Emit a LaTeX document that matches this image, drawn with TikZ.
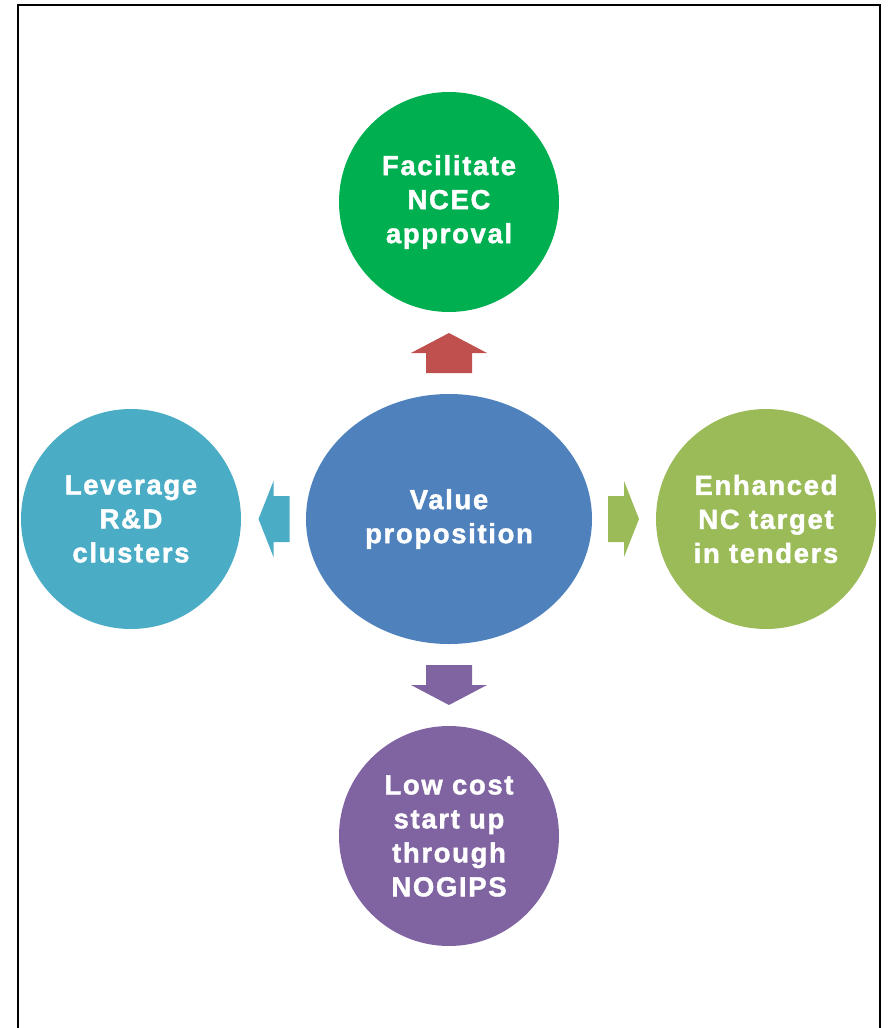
\documentclass[tikz,border=0pt]{standalone}
\usepackage{fontspec}
\setmainfont{Liberation Sans}
\newfontfamily\bubblefont{Liberation Sans Bold}[LetterSpace=6, FakeBold=1.5]
\usepackage{tikz}
\usetikzlibrary{calc, shapes.geometric}

\definecolor{vpgreen}{HTML}{00B050}
\definecolor{vpred}{HTML}{C0504D}
\definecolor{vpteal}{HTML}{4BACC6}
\definecolor{vpblue}{HTML}{4F81BD}
\definecolor{vpolive}{HTML}{9BBB59}
\definecolor{vppurple}{HTML}{8064A2}

\tikzset{
  bubble/.style={circle, minimum size=220pt, inner sep=0pt, align=center, text=white,
    font=\bubblefont\fontsize{27.5}{34}\selectfont},
  hub/.style={bubble, ellipse, minimum width=286pt, minimum height=250pt},
}

\begin{document}
\begin{tikzpicture}[x=1pt, y=-1pt]
      \useasboundingbox (0,0) rectangle (889,1028);
      \clip (0,0) rectangle (889,1028);
      \draw[line width=2pt] (18,5) rectangle (880,1040);

      \node[hub, fill=vpblue] (value) at (449,519) {Value\\proposition};
      \node[bubble, fill=vpgreen] (ncec) at (449,202) {Facilitate\\NCEC\\approval};
      \node[bubble, fill=vpteal] (rnd) at (131,519) {Leverage\\R\&D\\clusters};
      \node[bubble, fill=vpolive] (tenders) at (766,519) {Enhanced\\NC target\\in tenders};
      \node[bubble, fill=vppurple] (nogips) at (449,836) {Low cost\\start up\\through\\NOGIPS};

      \coordinate (upArr) at ($(value.north)!0.5!(ncec.south)$);
      \coordinate (leftArr) at ($(value.west)!0.5!(rnd.east)$);
      \coordinate (rightArr) at ($(value.east)!0.5!(tenders.west)$);
      \coordinate (downArr) at ($(value.south)!0.5!(nogips.north)$);

      \fill[vpred, shift={(upArr)}] (-23,20) -- (-23,0) -- (-38,0) -- (0,-20) -- (38,0) -- (23,0) -- (23,20) -- cycle;
      \fill[vppurple, shift={(downArr)}] (-23,-20) -- (-23,0) -- (-38,0) -- (0,20) -- (38,0) -- (23,0) -- (23,-20) -- cycle;
      \fill[vpteal, shift={(leftArr)}] (16,-23) -- (0,-23) -- (0,-38) -- (-15,0) -- (0,38) -- (0,23) -- (16,23) -- cycle;
      \fill[vpolive, shift={(rightArr)}] (-16,-23) -- (0,-23) -- (0,-38) -- (15,0) -- (0,38) -- (0,23) -- (-16,23) -- cycle;
    \end{tikzpicture}
\end{document}
